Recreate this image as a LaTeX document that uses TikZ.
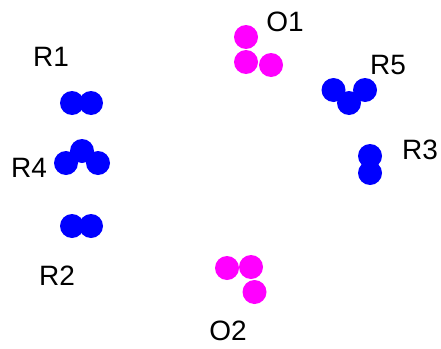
\documentclass[tikz,border=0pt]{standalone}
\usepackage{fontspec}
\setmainfont{Liberation Sans}
\definecolor{ablue}{RGB}{0,0,255}
\definecolor{amag}{RGB}{255,0,255}
\tikzset{
  ball/.style={circle,inner sep=0pt,minimum size=24pt,draw=none},
  bb/.style={ball,fill=ablue},
  mb/.style={ball,fill=amag},
  lbl/.style={inner sep=0pt,font=\fontsize{28}{30}\selectfont}
}
\begin{document}
\begin{tikzpicture}[x=1pt,y=-1pt]
\useasboundingbox (0,0) rectangle (441,348);
% R1
\node[bb] (r1a) at (72,103) {};
\node[bb] (r1b) at (91,103) {};
% R4
\node[bb] (r4a) at (82,151) {};
\node[bb] (r4b) at (66,163) {};
\node[bb] (r4c) at (98,163) {};
% R2
\node[bb] (r2a) at (72,226) {};
\node[bb] (r2b) at (91,226) {};
% R3
\node[bb] (r3a) at (370,156) {};
\node[bb] (r3b) at (370,173) {};
% R5
\node[bb] (r5a) at (333.5,90) {};
\node[bb] (r5b) at (365,90) {};
\node[bb] (r5c) at (349,103) {};
% O1
\node[mb] (o1a) at (246,37) {};
\node[mb] (o1b) at (246,62) {};
\node[mb] (o1c) at (271,65) {};
% O2
\node[mb] (o2a) at (227,268) {};
\node[mb] (o2b) at (251,267) {};
\node[mb] (o2c) at (254.5,292) {};
% labels
\node[lbl] (lr1) at (51,57) {R1};
\node[lbl] (lo1) at (285,22) {O1};
\node[lbl] (lr5) at (388,65) {R5};
\node[lbl] (lr3) at (420,150) {R3};
\node[lbl] (lr4) at (29,168) {R4};
\node[lbl] (lr2) at (57,276) {R2};
\node[lbl] (lo2) at (228,331) {O2};
\end{tikzpicture}
\end{document}
